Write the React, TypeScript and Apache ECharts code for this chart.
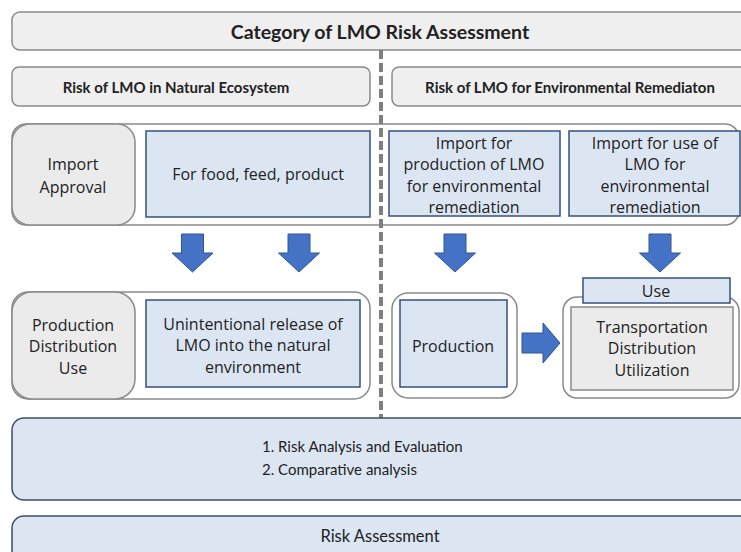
import { useEffect, useRef } from "react";
import * as echarts from "echarts";

const title = "Category of LMO Risk Assessment";
const branchHeaders = ["Risk of LMO in Natural Ecosystem", "Risk of LMO for Environmental Remediaton"];
const stageLabels = ["Import\nApproval", "Production\nDistribution\nUse"];
const importLabels = [
  "For food, feed, product",
  "Import for\nproduction of LMO\nfor environmental\nremediation",
  "Import for use of\nLMO for\nenvironmental\nremediation",
];
const outcomeLabels = [
  "Unintentional release of\nLMO into the natural\nenvironment",
  "Production",
  "Use",
  "Transportation\nDistribution\nUtilization",
];
const analysisSteps = ["1. Risk Analysis and Evaluation", "2. Comparative analysis"];
const footerLabel = "Risk Assessment";

const GRAY_FILL = "#ebebeb";
const GRAY_STROKE = "#8a8a8a";
const BLUE_FILL = "#dce6f3";
const BLUE_STROKE = "#34517d";
const ARROW = "#4472c4";
const ARROW_STROKE = "#2f5597";
const TEXT = "#222222";
const CAL = "Lato, 'Liberation Sans', sans-serif";
const BODY = "'Open Sans', 'Noto Sans', sans-serif";

function rect(x: number, y: number, w: number, h: number, r: number, fill: string, stroke: string, lw = 1.5) {
  return { type: "rect", shape: { x, y, width: w, height: h, r }, style: { fill, stroke, lineWidth: lw } };
}
function text(x: number, y: number, t: string, font: string, size: number, weight = "normal", lh = 21.5, align = "center") {
  return {
    type: "text",
    x,
    y,
    style: { text: t, fill: TEXT, fontFamily: font, fontSize: size, fontWeight: weight, align, verticalAlign: "middle", lineHeight: lh },
  };
}
function downArrow(cx: number, y0: number) {
  const sw = 11, hw = 20.5, sh = 19, h = 38;
  return {
    type: "polygon",
    shape: {
      points: [
        [cx - sw, y0], [cx + sw, y0], [cx + sw, y0 + sh], [cx + hw, y0 + sh],
        [cx, y0 + h], [cx - hw, y0 + sh], [cx - sw, y0 + sh],
      ],
    },
    style: { fill: ARROW, stroke: ARROW_STROKE, lineWidth: 1 },
  };
}
function rightArrow(x0: number, cy: number) {
  const sh = 10, hh = 20, sw = 21, w = 38;
  return {
    type: "polygon",
    shape: {
      points: [
        [x0, cy - sh], [x0 + sw, cy - sh], [x0 + sw, cy - hh], [x0 + w, cy],
        [x0 + sw, cy + hh], [x0 + sw, cy + sh], [x0, cy + sh],
      ],
    },
    style: { fill: ARROW, stroke: ARROW_STROKE, lineWidth: 1 },
  };
}

export default function App() {
  const ref = useRef<HTMLDivElement>(null);
  useEffect(() => {
    if (!ref.current) return;
    const chart = echarts.init(ref.current, null, { renderer: "svg" });
    const elements: any[] = [
      // title
      rect(12, 12, 740, 38, 8, "#efefef", GRAY_STROKE),
      text(380, 31, title, CAL, 19.5, "bold"),
      // branch headers
      rect(12, 67, 358, 39, 7, "#efefef", GRAY_STROKE),
      rect(392, 67, 360, 39, 7, "#efefef", GRAY_STROKE),
      text(176, 87, branchHeaders[0], CAL, 15, "bold"),
      text(570, 87, branchHeaders[1], CAL, 15, "bold"),
      // row 1 frame
      rect(12, 124, 727, 101, 14, "#ffffff", GRAY_STROKE),
      // row 2 frames
      rect(12, 292, 358, 107, 16, "#ffffff", GRAY_STROKE),
      rect(392, 293, 125, 105, 16, "#ffffff", GRAY_STROKE),
      rect(563, 297, 176, 101, 14, "#ffffff", GRAY_STROKE),
      // dashed divider
      {
        type: "line",
        shape: { x1: 381, y1: 50, x2: 381, y2: 418 },
        style: { stroke: "#7f7f7f", lineWidth: 4, lineDash: [9, 4] },
      },
      // stage boxes
      rect(12, 124, 123, 101, 18, GRAY_FILL, GRAY_STROKE),
      text(73, 175, stageLabels[0], BODY, 16, "normal", 23),
      rect(12, 292, 123, 107, 20, GRAY_FILL, GRAY_STROKE),
      text(73, 346, stageLabels[1], BODY, 16, "normal", 21.5),
      // import boxes
      rect(146, 131, 224, 86, 0, BLUE_FILL, BLUE_STROKE),
      text(258, 174, importLabels[0], BODY, 16),
      rect(389, 131, 171, 85, 0, BLUE_FILL, BLUE_STROKE),
      text(474, 175, importLabels[1], BODY, 16),
      rect(569, 131, 171, 85, 0, BLUE_FILL, BLUE_STROKE),
      text(655, 175, importLabels[2], BODY, 16),
      // arrows
      downArrow(192.5, 234),
      downArrow(299, 234),
      downArrow(455, 234),
      downArrow(660, 234),
      rightArrow(522, 343),
      // outcome boxes
      rect(146, 300, 214, 87, 0, BLUE_FILL, BLUE_STROKE),
      text(253, 345, outcomeLabels[0], BODY, 16),
      rect(400, 300, 107, 87, 0, BLUE_FILL, BLUE_STROKE),
      text(453, 346, outcomeLabels[1], BODY, 16),
      rect(571, 307, 162, 83, 0, GRAY_FILL, GRAY_STROKE),
      text(652, 348, outcomeLabels[3], BODY, 16),
      rect(583, 278, 147, 25, 0, BLUE_FILL, BLUE_STROKE),
      text(656, 291, outcomeLabels[2], BODY, 16),
      // analysis
      rect(12, 418, 740, 82, 12, "#dce6f2", "#3a4d68"),
      text(262, 446, analysisSteps[0], CAL, 15, "normal", 22, "left"),
      text(262, 469, analysisSteps[1], CAL, 15, "normal", 22, "left"),
      rect(12, 516, 740, 50, 12, "#dce6f2", "#3a4d68"),
      text(380, 536, footerLabel, CAL, 16.5),
    ];
    chart.setOption({
      animation: false,
      backgroundColor: "#ffffff",
      graphic: { elements },
    });
    return () => chart.dispose();
  }, []);
  return <div ref={ref} style={{ position: "fixed", left: 0, top: 0, width: 741, height: 552 }} />;
}
